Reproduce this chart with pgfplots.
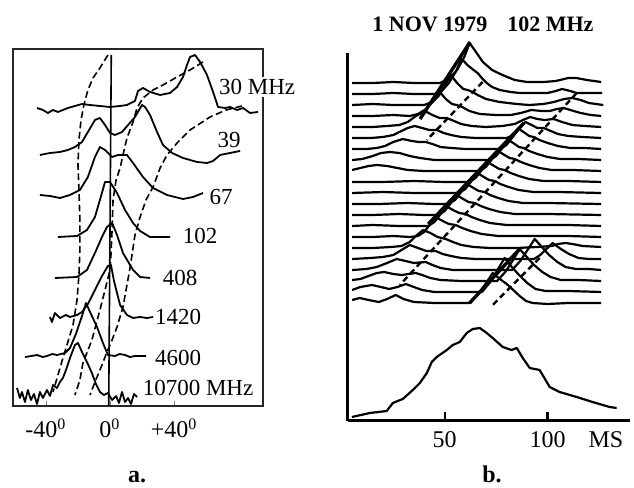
\documentclass[border=0pt]{standalone}
\usepackage{fontspec}
\setmainfont{Liberation Serif}
\usepackage{pgfplots}
\pgfplotsset{compat=1.18}

\newcommand{\lab}{\fontsize{11.5}{13}\selectfont}
\tikzset{
  cv/.style={black, line width=0.9pt, line join=round},
  dl/.style={black, line width=0.8pt, dash pattern=on 3.4pt off 1.8pt},
  tr/.style={black, line width=1.1pt, line join=round},
  thk/.style={black, line width=1.7pt},
  dsh/.style={black, line width=1.2pt, dash pattern=on 3pt off 2pt},
}

\begin{document}
\begin{tikzpicture}
\path[use as bounding box] (0pt,0pt) rectangle (317pt,244pt);

% ---- panel a: profiles vs frequency ----
\begin{axis}[
  at={(6.5pt,41pt)}, anchor=south west,
  scale only axis, width=125pt, height=178.5pt,
  xmin=-60.6, xmax=95.6, ymin=0, ymax=357,
  axis line style={line width=0.8pt, black!85},
  xtick={-40,0,40},
  xticklabels={{-40\textsuperscript{0}},{0\textsuperscript{0}},{+40\textsuperscript{0}}},
  xtick pos=left, xtick align=inside, major tick length=2.5pt,
  ytick=\empty,
  xticklabel style={font=\fontsize{12}{14}\selectfont, anchor=base, yshift=-16pt},
  clip=false,
]
% 30 MHz
\addplot[cv] coordinates {(-45.6,298) (-41.9,296) (-38.8,293) (-35.6,296) (-32.5,294) (-29.4,296) (-26.3,298) (-21.9,300) (-17.5,302) (-12.5,301) (-6.3,300) (0,299) (6.3,300) (10.6,301) (15.6,305) (17.5,315) (20.6,318) (25,314) (31.3,311) (37.5,313) (41.9,319) (45.6,329) (48.1,341) (50,349) (53.1,351) (56.3,344) (60.6,331) (64.4,314) (67.5,299) (71.9,298) (75,299) (79.4,296) (83.1,298) (87.5,293) (92.5,294)};
% 39
\addplot[cv] coordinates {(-43.8,251) (-37.5,253) (-31.3,254) (-26.3,256) (-21.9,259) (-17.5,264) (-13.8,274) (-9.4,286) (-6.3,288) (-3.1,281) (0,273) (3.1,271) (7.5,274) (11.3,281) (15.6,289) (20,301) (21.9,299) (25,291) (29.4,274) (33.1,261) (38.8,253) (45.6,248) (54.4,244) (60.6,243) (64.4,245) (68.8,251) (75,253) (81.3,255)};
% 67
\addplot[cv] coordinates {(-43.8,211) (-37.5,210) (-31.3,208) (-25,211) (-18.8,216) (-13.8,229) (-9.4,249) (-6.3,259) (-3.1,256) (1.3,249) (5,251) (10.6,251) (14.4,243) (20.6,229) (26.9,218) (35.6,211) (45.6,207) (51.9,209) (58.1,213)};
% 102
\addplot[cv] coordinates {(-32.5,169) (-20.6,170) (-14.4,176) (-9.4,189) (-6.3,206) (-3.1,224) (0,224) (4.4,213) (9.4,196) (14.4,183) (18.8,175) (25,169) (37.5,169)};
% 408
\addplot[cv] coordinates {(-34.4,128) (-20.6,129) (-14.4,136) (-9.4,153) (-5,169) (-1.9,179) (1.3,183) (4.4,171) (8.1,153) (14.4,136) (18.8,129) (25,128)};
% 1420
\addplot[cv] coordinates {(-37.5,89) (-36.3,84) (-34.4,93) (-31.3,88) (-27.5,91) (-25,89) (-20.6,91) (-17.5,94) (-13.8,102) (-9.4,116) (-5,130) (-1.3,140) (0.6,141) (2.5,125) (6.3,101) (10.6,91) (14.4,88) (18.8,89) (23.1,88) (26.9,89)};
% 4600
\addplot[cv] coordinates {(-53.1,49) (-49,50) (-45.6,51) (-42,49) (-39.4,50) (-36,52) (-33.1,51) (-28.1,53) (-25,58) (-21.3,72) (-17.5,90) (-15,103) (-11.9,92) (-8.1,79) (-4.4,63) (-1.3,51) (3.1,50) (6,52) (9.4,51) (12.5,49) (15.6,50) (22.5,50)};
% 10700
\addplot[cv] coordinates {(-58.1,18) (-56.3,8) (-55,14) (-53.1,4) (-51.3,16) (-49.4,6) (-47.5,12) (-45.6,2) (-43.8,14) (-41.9,8) (-39.4,16) (-37.5,10) (-35.6,21) (-33.1,18) (-31.3,24) (-29.4,28) (-27.5,36) (-25,48) (-21.9,61) (-20,63) (-17.5,54) (-14.4,44) (-11.3,33) (-8.8,22) (-6.3,14) (-3.8,11) (-1.3,13) (1.3,6) (3.8,10) (5.6,3) (7.5,14) (9.4,4) (11.3,8) (13.1,2) (15,12) (16.9,9)};
% zero line
\addplot[black, line width=0.8pt] coordinates {(0.8,351) (-0.8,0)};
% component tracks
\addplot[dl] coordinates {(-1.3,351) (-6.3,338) (-10.6,328) (-13.8,316) (-16.3,301) (-18.1,286) (-19.4,266) (-20,241) (-19.4,216) (-18.8,186) (-18.8,156) (-19.4,131) (-20.6,106) (-23.1,81) (-26.3,64) (-29.4,48) (-32.5,31) (-35.6,14)};
\addplot[dl] coordinates {(58.1,344) (50,336) (41.9,329) (33.1,321) (26.9,316) (20.6,308) (16.9,298) (14.4,284) (10.6,268) (8.1,251) (6.3,238) (3.8,226) (1.9,206) (1.3,176) (0.6,151) (0,136) (-3.1,116) (-6.3,96) (-11.3,66) (-16.9,43) (-18.8,26) (-21.9,11)};
\addplot[dl] coordinates {(82.5,300) (72.5,296) (62.5,289) (50,276) (41.9,263) (35.6,251) (31.3,238) (26.9,219) (22.5,206) (18.8,189) (15.6,171) (14.4,158) (12.5,138) (10.6,121) (8.1,99) (4.4,79) (1.3,66) (-1.9,54) (-5,41) (-9.4,24) (-12.5,11)};
\node[font=\lab, fill=white, inner sep=1pt] at (axis cs:91.9,319) {30 MHz};
\node[font=\lab] at (axis cs:74.4,266) {39};
\node[font=\lab] at (axis cs:69.4,209) {67};
\node[font=\lab] at (axis cs:56.3,170) {102};
\node[font=\lab] at (axis cs:43.8,128) {408};
\node[font=\lab] at (axis cs:42.5,89) {1420};
\node[font=\lab] at (axis cs:42.5,48) {4600};
\node[font=\lab] at (axis cs:55,18) {10700 MHz};
\end{axis}

% ---- panel b: pulse sequence, 1 Nov 1979, 102 MHz ----
\begin{axis}[
  at={(174pt,33.5pt)}, anchor=south west,
  scale only axis, width=141pt, height=184pt,
  xmin=3, xmax=140, ymin=0, ymax=368,
  axis x line=bottom, axis y line=left,
  axis line style={line width=1.5pt, -},
  xtick={50,100}, xticklabels={50,100}, ytick=\empty,
  xtick align=inside, major tick length=4.5pt,
  tick style={line width=1.2pt, black},
  xticklabel style={font=\fontsize{12}{14}\selectfont, anchor=base, yshift=-13.5pt},
  clip=false,
]
\addplot[tr] coordinates {(5,338) (15,338) (25,339) (35,338) (47.6,338) (52,342) (56,351) (59.5,364) (62.1,378) (65.5,368) (68.5,359) (73,351) (78,346) (84,341) (90,339) (98,339) (104,340) (110,343) (114,343) (119,341) (126,339)};
\addplot[tr] coordinates {(5,327) (15,327) (25,328) (35,327) (45,327) (49,331) (52,338) (55,348) (58.3,362) (61,356) (64,351) (66,348) (68,343) (70.4,338) (73,334) (76.7,331) (82,329) (86.4,328) (95,328) (100,328) (104,330) (107,332) (111,330) (114,328) (120,328) (126.5,328)};
\addplot[tr] coordinates {(5,316) (15,317) (25,316) (33,316) (40,316) (44,319) (47,325) (50,335) (52.9,346) (56,338) (59,332) (61.2,331) (63.5,329) (66,326) (70,322) (76.7,319) (85,317) (91,316) (98,317) (103,319) (108,322) (112,323) (116,321) (120,318) (127,316)};
\addplot[tr] coordinates {(5,305) (15,305) (25,306) (33,305) (37,307) (41,312) (44.5,320) (47.6,329) (50.5,322) (53.5,317) (55.8,316) (58.5,314) (62,310) (67,307) (75,306) (82,306) (87,308) (92,311) (97,310) (101,310) (104.5,312) (107.8,313) (111,311) (116,308) (121,306) (126,305)};
\addplot[tr] coordinates {(5,294) (15,294) (22,295) (28,296) (32,299) (36,305) (40.3,310) (44,306) (47.5,303) (51,303) (54.5,300) (58,297) (63,295) (70,294) (78,295) (84,297) (88,301) (91.5,304) (95,302) (98.5,301) (102.9,302) (107,299) (112,296) (118,295) (126,294)};
\addplot[tr] coordinates {(5,283) (14,283) (20,284) (25,286) (29,290) (32,293) (35.4,295) (39,293) (42.5,291) (46.1,291) (49.5,288) (53,286) (58,284) (65,283) (75,283) (80.2,283) (83.2,286) (86.2,293) (89.2,299) (92.2,296) (95,293) (98.1,293) (101.5,290) (105,287) (110,285) (117,284) (126,283)};
\addplot[tr] coordinates {(5,272) (12,272) (17,273) (21,275) (25,279) (29.6,282) (34,280) (37.5,279) (40.8,279) (44,277) (48,274) (53,273) (60,272) (72,272) (77,272) (80,276) (83,284) (86,292) (89,288) (91,285) (93.2,284) (96,281) (100,278) (105,275) (111,273) (118,273) (126,272)};
\addplot[tr] coordinates {(5,261) (10,262) (15,265) (19,268) (23.3,269) (28,268) (33,265) (38,263) (45,261) (60,261) (72,261) (75,265) (78,273) (81,281) (84,277) (86,274) (88.3,273) (91,270) (95,267) (100,264) (106,262) (115,262) (126,261)};
\addplot[tr] coordinates {(5,251) (9,253) (13,255) (17,256) (22,255) (27,253) (32,251) (40,250) (55,250) (67,250) (70,254) (73,262) (75.9,270) (79,266) (81.5,263) (84,262) (87,259) (91,256) (96,253) (102,251) (112,251) (126,250)};
\addplot[tr] coordinates {(5,239) (20,239) (35,240) (50,239) (62,239) (65,243) (68,251) (70.8,259) (74,255) (76.5,252) (79.1,251) (82,248) (86,245) (91,242) (98,240) (110,240) (126,239)};
\addplot[tr] coordinates {(5,228) (20,229) (35,228) (50,228) (57,228) (60,232) (63,240) (65.8,248) (69,244) (71.5,241) (74.3,240) (77,237) (81,234) (86,231) (93,229) (105,229) (126,228)};
\addplot[tr] coordinates {(5,217) (18,217) (32,218) (45,217) (52,217) (55,221) (58,229) (60.7,237) (64,233) (66.5,230) (69.4,229) (72,226) (76,223) (81,220) (88,218) (100,218) (126,217)};
\addplot[tr] coordinates {(5,206) (15,206) (28,207) (40,206) (47,206) (50,210) (53,218) (55.6,226) (59,222) (61.5,219) (64.6,218) (67.5,215) (71.5,212) (77,209) (84,207) (100,207) (126,206)};
\addplot[tr] coordinates {(5,195) (15,196) (28,195) (36,195) (42,195) (45,199) (48,207) (50.6,215) (54,211) (57,208) (60.2,207) (63,204) (67,201) (72,198) (80,196) (95,196) (110,196) (126,195)};
\addplot[tr] coordinates {(5,184) (15,184) (25,185) (33,184) (37,185) (40,189) (43,197) (45.5,204) (49,200) (52,197) (55.3,196) (58.5,193) (62.5,190) (68,187) (76,185) (90,185) (110,185) (126,184)};
\addplot[tr] coordinates {(5,173) (15,173) (24,174) (29,175) (33,179) (36.5,186) (39.5,191) (43,188) (46.5,184) (50.5,182) (54,179) (58,176) (64,174) (72,173) (85,173) (95,174) (102,175) (105,177) (108.7,178) (112,177) (117,175) (126,174)};
\addplot[tr] coordinates {(5,162) (14,163) (20,164) (25,166) (29,171) (33,176) (37,173) (41,170) (45.6,170) (49,167) (53,165) (58,163) (65,162) (80,162) (90,162) (93.4,162) (96.4,166) (99.4,172) (102.4,178) (106.4,172) (110.4,167) (115,163) (120,162) (126,162)};
\addplot[tr] coordinates {(5,151) (12,152) (17,154) (22,158) (26.6,162) (31,160) (35,158) (40.8,159) (44,156) (48,153) (54,151) (65,151) (75,151) (82.7,151) (86.7,160) (90.2,171) (93.7,182) (97.2,174) (100.7,166) (104.7,159) (108.7,154) (113.7,152) (120,152) (126,151)};
\addplot[tr] coordinates {(5,141) (9,142) (13,145) (17,148) (20.6,149) (25,147) (29,146) (32.5,147) (35.9,148) (39,146) (43,143) (48,141) (58,140) (70,140) (75.4,140) (79.4,149) (82.9,160) (86.4,172) (89.9,164) (93.4,156) (97.4,149) (101.4,144) (106.4,141) (115,141) (126,140)};
\addplot[tr] coordinates {(5,131) (9,134) (14.6,136) (19,134) (23,132) (27,134) (31.1,137) (35,134) (39,131) (45,129) (55,129) (64,129) (68.1,129) (72.1,139) (75.6,151) (79.1,163) (82.6,154) (86.1,146) (90.1,138) (94.1,132) (99,130) (110,130) (126,129)};
\addplot[tr] coordinates {(5,121) (8.7,123) (13,121) (18,119) (22,122) (26.2,126) (30,122) (35,119) (45,118) (55,118) (62.1,118) (66,126) (69.8,137) (73.3,148) (76.8,142) (80.1,137) (83.3,131) (86.4,125) (89.5,120) (92.7,118) (100,117) (110,118) (126,118)};
% drift tracks
\addplot[thk] coordinates {(62.3,379) (38,302)};
\addplot[thk] coordinates {(88.5,298) (42,197)};
\addplot[thk] coordinates {(86.4,172) (62.1,118)};
\addplot[dsh] coordinates {(68.4,339) (41.3,281)};
\addplot[dsh] coordinates {(114.1,328) (28.2,136)};
\addplot[dsh] coordinates {(96.1,163) (73.3,116)};
% integrated profile
\addplot[tr] coordinates {(4.9,4) (13.6,8) (21.8,10) (24.8,18) (29.6,22) (34.5,31) (37.9,38) (41.3,48) (43.7,59) (46.1,64) (51,71) (53.9,76) (57.3,79) (60.7,88) (63.6,92) (67,93) (70.4,88) (73.3,83) (78.2,74) (82.5,71) (85,73) (87.9,63) (91.3,53) (96.1,51) (101,34) (105.8,29) (114.1,24) (121.8,19) (130.1,14) (133.5,13)};
\node[anchor=base, yshift=-13.5pt, font=\fontsize{12}{14}\selectfont] at (axis cs:128.3,0) {MS};
\end{axis}

\node[anchor=base, font=\bfseries\fontsize{11}{13}\selectfont] at (241.5pt,228pt) {1 NOV 1979\hspace{10pt}102 MHz};
\node[anchor=base, font=\bfseries\fontsize{12}{14}\selectfont] at (68.5pt,2.5pt) {a.};
\node[anchor=base, font=\bfseries\fontsize{12}{14}\selectfont] at (246pt,2.5pt) {b.};
\end{tikzpicture}
\end{document}
